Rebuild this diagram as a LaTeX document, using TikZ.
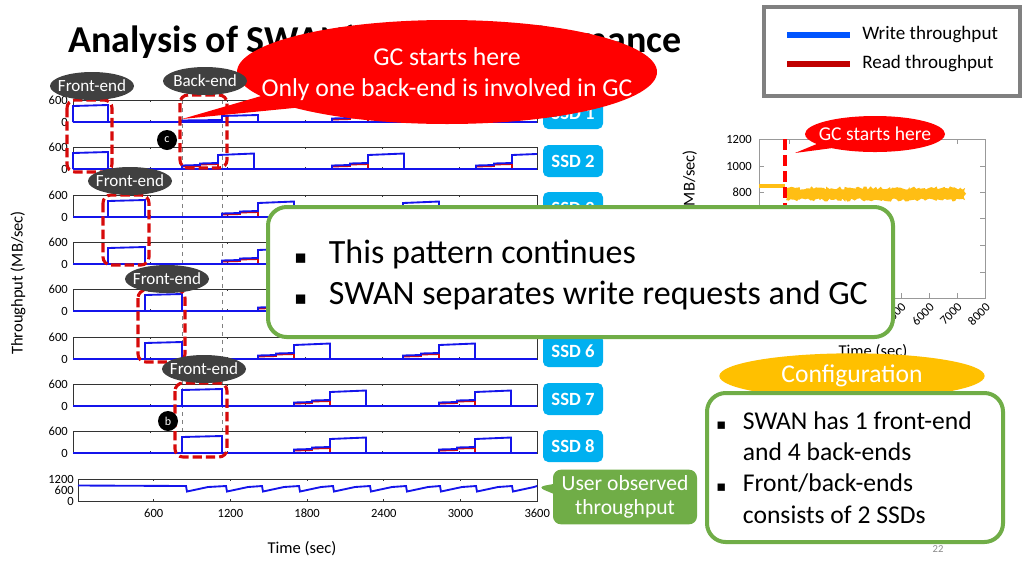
\documentclass[tikz,border=0pt]{standalone}
\usepackage{fontspec}
\setmainfont{Carlito}
\newfontfamily\symfont{DejaVu Sans}
\usetikzlibrary{shapes.callouts,shapes.geometric,decorations.pathmorphing}
\definecolor{wblue}{RGB}{20,20,235}
\definecolor{rred}{RGB}{215,10,10}
\definecolor{legblue}{RGB}{0,85,255}
\definecolor{legred}{RGB}{192,0,0}
\definecolor{ssdsky}{RGB}{0,176,240}
\definecolor{okgreen}{RGB}{112,173,71}
\definecolor{cfgyellow}{RGB}{255,192,0}
\definecolor{tagdark}{RGB}{64,64,64}
\definecolor{gcorange}{RGB}{255,190,20}
\tikzset{
  wline/.style={wblue, line width=1.4pt},
  rline/.style={rred, line width=1.4pt},
  panelframe/.style={black!80, line width=0.6pt},
  rframe/.style={black!40, line width=0.6pt},
  ticklbl/.style={anchor=east, inner sep=0pt, font=\fontsize{9.4}{11}\selectfont},
  gcmark/.style={gray, dashed, line width=0.6pt},
  febox/.style={rred, line width=2.3pt, dash pattern=on 7pt off 3pt, rounded corners=6pt},
  endtag/.style={ellipse, fill=tagdark, minimum width=63pt, minimum height=21pt, inner sep=0pt},
  tagtext/.style={text=white, font=\fontsize{12.8}{14}\selectfont},
  pointdot/.style={circle, fill=black, text=white, minimum size=15pt, inner sep=0pt, font=\fontsize{9}{10}\selectfont},
  ssdtag/.style={rectangle, rounded corners=4pt, fill=ssdsky, text=white, minimum width=45pt, minimum height=24pt, font=\bfseries\fontsize{14}{15}\selectfont},
  notebox/.style={draw=okgreen, fill=white, line width=3pt, rounded corners=14pt},
  axtitle/.style={font=\fontsize{12.4}{14}\selectfont}
}
\newcommand\ssdpanel[4]{%
  \begin{scope}[shift={(0,#1)}]
    \draw[panelframe] (73,0) rectangle (537,22);
    \foreach \k in {1,...,5}
      \draw[panelframe] (73+77.3*\k,0) -- ++(0,2) (73+77.3*\k,22) -- ++(0,-2);
    \begin{scope}
      \clip (72,-3) rectangle (537,24);
      \draw[rline] (73,22) -- (537,22);
      \foreach \s in {#4}
        \draw[rline] (\s,22) -- (\s,19.5) -- (\s+18,19) -- (\s+18,17.5) -- (\s+36,17) -- (\s+36,22);
      \draw[wline] (73,22) -- (537,22);
      \draw[wline] (#2,22) -- (#2,6) -- (#3,5) -- (#3,22);
      \foreach \s in {#4}
        \draw[wline] (\s,22) -- (\s,18.5) -- (\s+18,18) -- (\s+18,16.5) -- (\s+36,16) -- (\s+36,8) -- (\s+72,6.5) -- (\s+72,22);
    \end{scope}
    \node[ticklbl] (hi#1) at (68,0) {600};
    \node[ticklbl] (lo#1) at (68,22) {0};
  \end{scope}}

\begin{document}
\begin{tikzpicture}[x=0.75pt,y=-0.75pt]
\useasboundingbox[fill=white] (0,0) rectangle (1024,576);

\node[anchor=base west, inner sep=0pt, font=\bfseries\fontsize{28.5}{32}\selectfont] (title) at (68,52) {Analysis of SWAN's GC\hspace{37pt} Performance};

\draw[gcmark] (182,100) -- (182,453) (222,100) -- (222,453);
\ssdpanel{100}{73}{108}{332,476}
\draw[wline] (182,122) -- (182,120.5) -- (222,120) -- (222,116) -- (258,115) -- (258,122);
\ssdpanel{147}{73}{108}{182,332,476}
\ssdpanel{195}{108}{145}{222,367,512}
\ssdpanel{242}{108}{145}{222,367,512}
\ssdpanel{289}{145}{182}{258,403}
\ssdpanel{337}{145}{182}{258,403}
\ssdpanel{384}{182}{222}{294,439}
\ssdpanel{431}{182}{222}{294,439}

\draw[panelframe] (78,479) rectangle (537,501);
\foreach \k in {1,...,5}
  \draw[panelframe] (77+76.7*\k,479) -- ++(0,2) (77+76.7*\k,501) -- ++(0,-2);
\draw[wline] (78,485.5) foreach \d in {186,226,262,299,333,370,406,440,476,512}{ -- (\d,486) -- (\d+1,491.5) -- (\d+22,487)} -- (537,486);
\node[ticklbl] (uhi) at (74,479) {1200};
\node[ticklbl] (umid) at (74,490) {600};
\node[ticklbl] (ulo) at (74,501) {0};
\foreach \t [count=\k] in {600,1200,1800,2400,3000,3600}
  \node[font=\fontsize{9.4}{11}\selectfont] (xl\k) at (77+76.7*\k,513) {\t};
\node[axtitle] (xtitle) at (302,549) {Time (sec)};
\node[axtitle, rotate=90] (ytitle) at (18,283) {Throughput (MB/sec)};

\draw[febox] (67,100) rectangle (112,172);
\draw[febox] (180,95) rectangle (227,168);
\draw[febox] (103,195) rectangle (149,265);
\draw[febox] (138,290) rectangle (185,362);
\draw[febox] (175,383) rectangle (227,457);

\foreach \n/\y in {1/113,2/161,3/208,4/255,5/302,6/351,7/399,8/446}
  \node[ssdtag] (ssd\n) at (573,\y) {SSD \n};

\node[ellipse callout, fill=red, minimum width=315pt, minimum height=78pt, inner sep=0pt,
  callout absolute pointer={(182,119)}, callout pointer arc=16] (gcbig) at (447,72) {};
\node[text=white, align=center, font=\fontsize{19.3}{23.5}\selectfont] (gcbigtext) at (447,74) {GC starts here\\Only one back-end is involved in GC};

\node[endtag, label={[tagtext]center:Front-end}] (fe1) at (92,86) {};
\node[endtag, label={[tagtext]center:Back-end}] (be1) at (205,81) {};
\node[endtag, label={[tagtext]center:Front-end}] (fe2) at (130,181) {};
\node[endtag, label={[tagtext]center:Front-end}] (fe3) at (167,279) {};
\node[endtag, label={[tagtext]center:Front-end}] (fe4) at (204,369) {};
\node[pointdot] (dotc) at (167,140) {c};
\node[pointdot] (dotb) at (168,421) {b};

\draw[rframe] (759,139) rectangle (985,298);
\foreach \v in {166,192,218,245,272}
  \draw[rframe] (985,\v) -- ++(-5,0) (759,\v) -- ++(5,0);
\foreach \k in {1,...,7}
  \draw[rframe] (761+28*\k,139) -- ++(0,5) (761+28*\k,298) -- ++(0,-5);
\foreach \v/\t in {139/1200,166/1000,192/800,218/600,245/400,272/200,298/0}
  \node[ticklbl] (ry\t) at (752,\v) {\t};
\foreach \t [count=\k] in {1000,2000,3000,4000,5000,6000,7000,8000}
  \node[rotate=45, anchor=east, inner sep=1pt, font=\fontsize{9.4}{11}\selectfont] (rx\k) at (765+28*\k,304) {\t};
\node[axtitle, rotate=90] (rytitle) at (690,222) {Throughput (MB/sec)};
\node[axtitle] (rxtitle) at (873,352) {Time (sec)};
\draw[gcorange, line width=2.5pt] (759,186) -- (785,186);
\pgfmathsetseed{7}
\fill[gcorange, decorate, decoration={random steps, segment length=1.5pt, amplitude=1.2pt}] (786,188) rectangle (965,200);
\draw[red, line width=2.5pt, dash pattern=on 8pt off 4pt] (785,139) -- (785,215);
\node[ellipse callout, fill=red, minimum width=105pt, minimum height=27pt, inner sep=0pt,
  callout absolute pointer={(795,153)}, callout pointer arc=18,
  label={[text=white, font=\fontsize{14.7}{16}\selectfont]center:GC starts here}] (gcsmall) at (875,134) {};

\draw[notebox] (268,207) rectangle (893,337);
\node[anchor=west, inner sep=0pt, align=left, font=\fontsize{25.5}{31}\selectfont] (pattern) at (294,275)
  {\makebox[26pt][l]{\symfont\fontsize{14}{14}\selectfont ▪}This pattern continues\\
   \makebox[26pt][l]{\symfont\fontsize{14}{14}\selectfont ▪}SWAN separates write requests and GC};

\draw[black!50, line width=3pt] (764,7) rectangle (1020,96);
\coordinate (wa) at (787,35);
\coordinate (wb) at (850,35);
\coordinate (ra) at (787,64);
\coordinate (rb) at (850,64);
\draw[legblue, line width=3.8pt] (wa) -- (wb);
\draw[legred, line width=3.8pt] (ra) -- (rb);
\node[anchor=west, inner sep=0pt, font=\fontsize{14.3}{16}\selectfont] (wtext) at (862,35) {Write throughput};
\node[anchor=west, inner sep=0pt, font=\fontsize{14.3}{16}\selectfont] (rtext) at (862,64) {Read throughput};

\node[ellipse, fill=cfgyellow, minimum width=199pt, minimum height=34pt, inner sep=0pt,
  label={[text=white, font=\fontsize{19.2}{21}\selectfont]center:Configuration}] (config) at (852,376) {};
\draw[notebox] (707,393) rectangle (1003,542);
\node[anchor=west, inner sep=0pt, align=left, font=\fontsize{19.2}{23.5}\selectfont] (cfgtext) at (716,467.5)
  {\makebox[20pt][l]{\symfont\fontsize{11}{11}\selectfont ▪}SWAN has 1 front-end\\
   \hspace*{20pt}and 4 back-ends\\
   \makebox[20pt][l]{\symfont\fontsize{11}{11}\selectfont ▪}Front/back-ends\\
   \hspace*{20pt}consists of 2 SSDs};

\node[rectangle callout, rounded corners=6pt, fill=okgreen, minimum width=108pt, minimum height=41pt, inner sep=0pt,
  callout absolute pointer={(537,487)}, align=center, text=white, font=\fontsize{16.2}{18.5}\selectfont] (userobs) at (625,497) {User observed\\throughput};

\node[text=black!45, font=\fontsize{8}{9}\selectfont] (pageno) at (938,549) {22};
\end{tikzpicture}
\end{document}
